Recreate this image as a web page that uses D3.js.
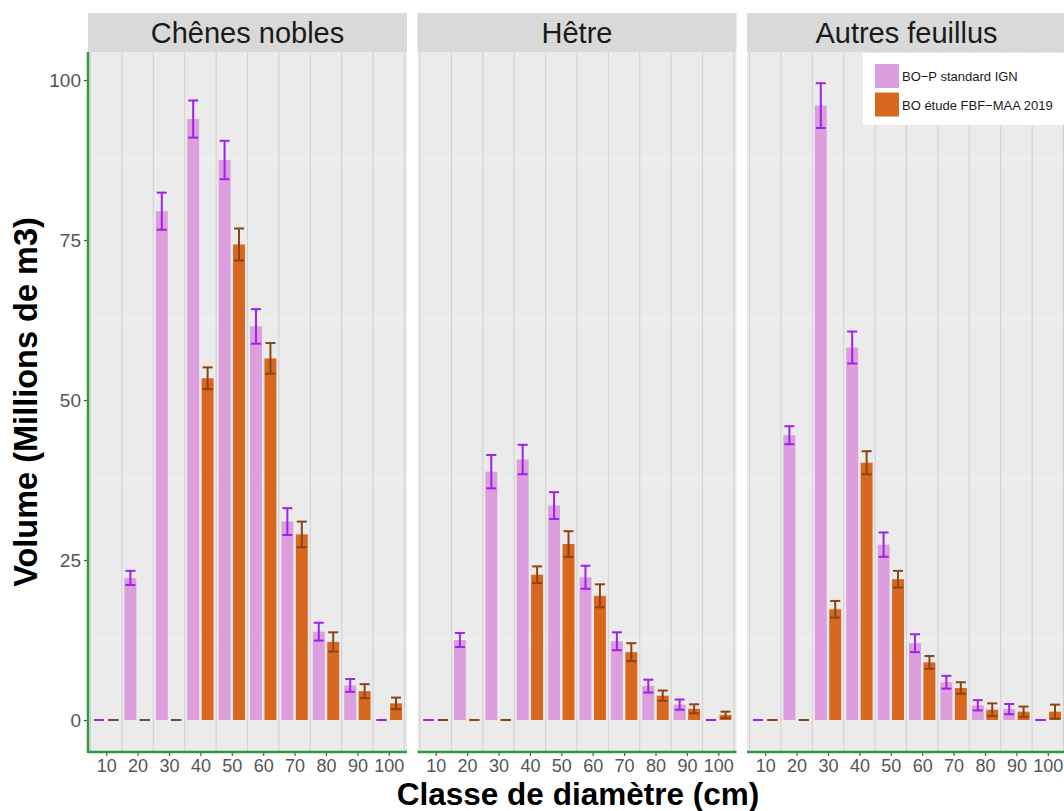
<!DOCTYPE html>
<html>
<head>
<meta charset="utf-8">
<script src="https://cdn.jsdelivr.net/npm/d3@7"></script>
<style>
  body { margin: 0; background: #fff; }
  svg { display: block; font-family: "Liberation Sans", Arial, sans-serif; }
</style>
</head>
<body>
<div id="chart"></div>
<script>
// categories
var diameters = [10, 20, 30, 40, 50, 60, 70, 80, 90, 100];
var panels = ["Chênes nobles", "Hêtre", "Autres feuillus"];
var seriesNames = ["BO−P standard IGN", "BO étude FBF−MAA 2019"];

// volumes (millions de m3) and error half-widths
var chenesIGN    = [0, 22.2, 79.5, 93.9, 87.5, 61.5, 31.0, 13.8, 5.4, 0];
var chenesIGNErr = [0, 1.1, 2.9, 2.9, 3.0, 2.7, 2.1, 1.4, 1.0, 0];
var chenesFBF    = [0, 0, 0, 53.4, 74.3, 56.5, 29.0, 12.2, 4.5, 2.6];
var chenesFBFErr = [0, 0, 0, 1.7, 2.5, 2.4, 2.0, 1.5, 1.1, 0.9];

var hetreIGN     = [0, 12.5, 38.8, 40.7, 33.5, 22.3, 12.3, 5.3, 2.4, 0];
var hetreIGNErr  = [0, 1.1, 2.6, 2.3, 2.1, 1.8, 1.4, 1.0, 0.8, 0];
var hetreFBF     = [0, 0, 0, 22.7, 27.5, 19.4, 10.6, 3.8, 1.75, 0.8];
var hetreFBFErr  = [0, 0, 0, 1.3, 2.0, 1.8, 1.4, 0.8, 0.7, 0.5];

var autresIGN    = [0, 44.5, 96.0, 58.2, 27.4, 12.0, 5.9, 2.3, 1.7, 0];
var autresIGNErr = [0, 1.4, 3.5, 2.5, 1.9, 1.4, 1.0, 0.8, 0.8, 0];
var autresFBF    = [0, 0, 17.3, 40.2, 22.0, 9.0, 5.0, 1.6, 1.3, 1.3];
var autresFBFErr = [0, 0, 1.3, 1.8, 1.3, 1.0, 0.9, 1.0, 0.8, 1.1];

var yTicks = [0, 25, 50, 75, 100];

var panelValues = [
    [[chenesIGN, chenesIGNErr], [chenesFBF, chenesFBFErr]],
    [[hetreIGN, hetreIGNErr], [hetreFBF, hetreFBFErr]],
    [[autresIGN, autresIGNErr], [autresFBF, autresFBFErr]]
];

var fills = ["#dc9edc", "#d8671f"];
var errColors = ["#a020f0", "#8b4513"];
var green = "#2f9a3a";

var width = 1064, height = 811;
var panelLeft = 88, panelW = 319, panelGap = 10.5;
var panelTop = 52, panelBottom = 752, stripTop = 13;

var svg = d3.select("#chart").append("svg")
    .attr("width", width)
    .attr("height", height);

var x = d3.scaleLinear()
    .domain([4.2, 105.8])
    .range([0, panelW]);

var y = d3.scaleLinear()
    .domain([-5, 104.375])
    .range([panelBottom, panelTop]);

// bar offsets from the class centre: [left, right] for each series
var dodge = [[-4.2, -0.4], [0.4, 4.2]];

panels.forEach(function(name, p) {
    var g = svg.append("g")
        .attr("transform", "translate(" + (panelLeft + p * (panelW + panelGap)) + ",0)");

    g.append("rect")
        .attr("x", 0).attr("y", panelTop)
        .attr("width", panelW).attr("height", panelBottom - panelTop)
        .attr("fill", "#ebebeb");

    // faint white horizontal lines between the labelled values
    g.selectAll(".hgrid")
        .data([12.5, 37.5, 62.5, 87.5])
        .enter().append("line")
        .attr("x1", 0).attr("x2", panelW)
        .attr("y1", function(d) { return y(d); })
        .attr("y2", function(d) { return y(d); })
        .attr("stroke", "#f6f6f6")
        .attr("stroke-width", 1);

    // grey vertical lines between diameter classes
    g.selectAll(".vgrid")
        .data(d3.range(5, 106, 10))
        .enter().append("line")
        .attr("x1", function(d) { return x(d); })
        .attr("x2", function(d) { return x(d); })
        .attr("y1", panelTop).attr("y2", panelBottom)
        .attr("stroke", "#d2d2d2")
        .attr("stroke-width", 1.1);

    // strip
    g.append("rect")
        .attr("x", 0).attr("y", stripTop)
        .attr("width", panelW).attr("height", panelTop - stripTop)
        .attr("fill", "#d9d9d9");
    g.append("text")
        .attr("x", panelW / 2).attr("y", 43)
        .attr("text-anchor", "middle")
        .attr("font-size", 29)
        .attr("fill", "#1a1a1a")
        .text(name);

    panelValues[p].forEach(function(series, s) {
        var vals = series[0], errs = series[1];
        var data = diameters.map(function(d, i) {
            return {d: d, v: vals[i], e: errs[i]};
        });

        g.selectAll(".bar" + s)
            .data(data)
            .enter().append("rect")
            .attr("x", function(d) { return x(d.d + dodge[s][0]); })
            .attr("width", function(d) { return x(d.d + dodge[s][1]) - x(d.d + dodge[s][0]); })
            .attr("y", function(d) { return y(d.v); })
            .attr("height", function(d) { return y(0) - y(d.v); })
            .attr("fill", fills[s]);

        var eb = g.selectAll(".err" + s)
            .data(data)
            .enter().append("g")
            .attr("stroke", errColors[s])
            .attr("stroke-width", 2);

        eb.append("line")
            .attr("x1", function(d) { return x(d.d + (dodge[s][0] + dodge[s][1]) / 2); })
            .attr("x2", function(d) { return x(d.d + (dodge[s][0] + dodge[s][1]) / 2); })
            .attr("y1", function(d) { return y(d.v - d.e); })
            .attr("y2", function(d) { return y(d.v + d.e); });

        [-1, 1].forEach(function(sign) {
            eb.append("line")
                .attr("x1", function(d) { return x(d.d + dodge[s][0] + 0.3); })
                .attr("x2", function(d) { return x(d.d + dodge[s][1] - 0.3); })
                .attr("y1", function(d) { return y(d.v + sign * d.e); })
                .attr("y2", function(d) { return y(d.v + sign * d.e); });
        });
    });

    // x axis
    var xAxis = g.append("g")
        .attr("transform", "translate(0," + panelBottom + ")")
        .call(d3.axisBottom(x).tickValues(diameters).tickSize(4).tickPadding(3));
    xAxis.select(".domain").remove();
    xAxis.selectAll("line").attr("stroke", "#555").attr("stroke-width", 1.2);
    xAxis.selectAll("text")
        .attr("font-size", 18)
        .attr("font-family", "Liberation Sans, Arial, sans-serif")
        .attr("fill", "#555");

    g.append("line")
        .attr("x1", 0).attr("x2", panelW)
        .attr("y1", panelBottom).attr("y2", panelBottom)
        .attr("stroke", green).attr("stroke-width", 2.5);

    if (p === 0) {
        var yAxis = g.append("g")
            .call(d3.axisLeft(y).tickValues(yTicks).tickSize(4).tickPadding(3));
        yAxis.select(".domain").remove();
        yAxis.selectAll("line").attr("stroke", "#555").attr("stroke-width", 1.2);
        yAxis.selectAll("text")
            .attr("font-size", 19)
            .attr("font-family", "Liberation Sans, Arial, sans-serif")
            .attr("fill", "#555");

        g.append("line")
            .attr("x1", 0).attr("x2", 0)
            .attr("y1", panelTop).attr("y2", panelBottom + 1)
            .attr("stroke", green).attr("stroke-width", 2.5);
    }
});

// axis titles
svg.append("text")
    .attr("x", 578).attr("y", 804.5)
    .attr("text-anchor", "middle")
    .attr("font-size", 31.5)
    .attr("font-weight", "bold")
    .attr("fill", "#000")
    .text("Classe de diamètre (cm)");

svg.append("text")
    .attr("transform", "translate(37,402) rotate(-90)")
    .attr("text-anchor", "middle")
    .attr("font-size", 32.5)
    .attr("font-weight", "bold")
    .attr("fill", "#000")
    .text("Volume (Millions de m3)");

// legend
var legend = svg.append("g");
legend.append("rect")
    .attr("x", 863).attr("y", 53)
    .attr("width", 215).attr("height", 72)
    .attr("fill", "#fff");

var items = legend.selectAll(".item")
    .data(seriesNames)
    .enter().append("g")
    .attr("transform", function(d, i) { return "translate(875," + (64 + i * 28.5) + ")"; });

items.append("rect")
    .attr("width", 24).attr("height", 24)
    .attr("fill", function(d, i) { return fills[i]; });

items.append("text")
    .attr("x", 27).attr("y", 17)
    .attr("font-size", 13)
    .attr("fill", "#1a1a1a")
    .text(function(d) { return d; });
</script>
</body>
</html>
